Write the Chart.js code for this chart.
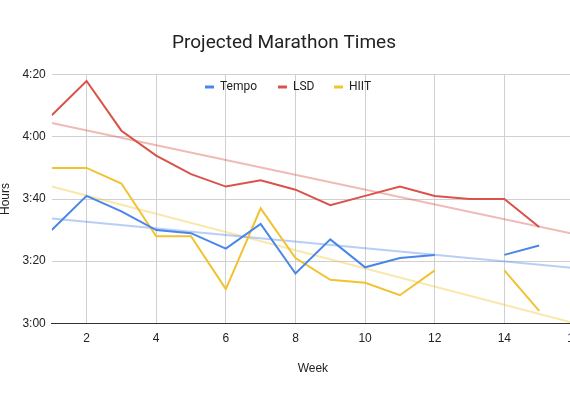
<!DOCTYPE html>
<html lang="en">
<head>
<meta charset="UTF-8">
<title>Projected Marathon Times</title>
<script src="https://cdn.jsdelivr.net/npm/chart.js"></script>
<style>
  html, body { margin: 0; background: #fff; overflow: hidden; }
  #wrap { position: absolute; left: -8px; top: 0; width: 610px; height: 410px; }
</style>
</head>
<body>
<div id="wrap"><canvas id="chart"></canvas></div>
<script>
// weeks and projected times in minutes (3:30 = 210)
const weeks = [1, 2, 3, 4, 5, 6, 7, 8, 9, 10, 11, 12, 13, 14, 15];
const tempo = [210, 221, 216, 210, 209, 204, 212, 196, 207, 198, 201, 202, null, 202, 205];
const lsd   = [247, 258, 242, 234, 228, 224, 226, 223, 218, 221, 224, 221, 220, 220, 211];
const hiit  = [230, 230, 225, 208, 208, 191, 217, 201, 194, 193, 189, 197, null, 197, 184];
const xTicks = [2, 4, 6, 8, 10, 12, 14, 16];

const colors = { Tempo: '#4a86e8', LSD: '#d9534a', HIIT: '#f1c232' };

function fmt(v) {
  const h = Math.floor(v / 60), m = Math.round(v % 60);
  return h + ':' + String(m).padStart(2, '0');
}

function trend(vals) {
  const pts = weeks.map((w, i) => [w, vals[i]]).filter(p => p[1] !== null);
  const n = pts.length;
  const sx = pts.reduce((a, p) => a + p[0], 0), sy = pts.reduce((a, p) => a + p[1], 0);
  const sxx = pts.reduce((a, p) => a + p[0] * p[0], 0), sxy = pts.reduce((a, p) => a + p[0] * p[1], 0);
  const b = (n * sxy - sx * sy) / (n * sxx - sx * sx);
  const a = (sy - b * sx) / n;
  return [1, 16].map(x => ({ x: x, y: a + b * x }));
}

function series(label, vals) {
  return {
    label: label,
    data: weeks.map((w, i) => ({ x: w, y: vals[i] })),
    borderColor: colors[label], borderWidth: 2, pointRadius: 0, tension: 0, spanGaps: false
  };
}
function trendSet(label, vals) {
  return {
    label: '', data: trend(vals), borderColor: colors[label] + '66',
    borderWidth: 2, pointRadius: 0
  };
}

const legendPlugin = {
  id: 'innerLegend',
  afterDraw(chart) {
    const ctx = chart.ctx;
    const items = ['Tempo', 'LSD', 'HIIT'];
    const xs = [205, 278, 334];
    ctx.save();
    ctx.font = '12px Roboto, Arial, sans-serif';
    ctx.textBaseline = 'middle';
    items.forEach((it, i) => {
      const x = xs[i] + 8, y = 87;
      ctx.strokeStyle = colors[it]; ctx.lineWidth = 3;
      ctx.beginPath(); ctx.moveTo(x, y); ctx.lineTo(x + 9, y); ctx.stroke();
      ctx.fillStyle = '#222'; ctx.fillText(it, x + 15, y);
    });
    ctx.restore();
  }
};

new Chart(document.getElementById('chart'), {
  type: 'line',
  data: {
    datasets: [
      series('Tempo', tempo), series('LSD', lsd), series('HIIT', hiit),
      trendSet('Tempo', tempo), trendSet('LSD', lsd), trendSet('HIIT', hiit)
    ]
  },
  options: {
    responsive: true, maintainAspectRatio: false, animation: false,
    layout: { padding: { left: 2, right: 28, top: 12, bottom: 30 } },
    plugins: {
      legend: { display: false },
      tooltip: { enabled: false },
      title: {
        display: true, text: 'Projected Marathon Times', color: '#222',
        font: { size: 19, family: 'Roboto, Arial, sans-serif', weight: 'normal' },
        padding: { top: 20, bottom: 20 }
      }
    },
    scales: {
      x: {
        type: 'linear', min: 1, max: 16,
        afterBuildTicks: s => { s.ticks = xTicks.map(v => ({ value: v })); },
        grid: { color: '#d0d0d0', drawTicks: false },
        border: { color: '#333' },
        ticks: { color: '#222', padding: 8, font: { size: 12 } },
        title: { display: true, text: 'Week', color: '#222', font: { size: 12 }, padding: { top: 8 } }
      },
      y: {
        min: 180, max: 260,
        ticks: { stepSize: 20, callback: v => fmt(v), color: '#222', padding: 6, font: { size: 12 } },
        grid: { color: '#d0d0d0', drawTicks: false },
        border: { display: false },
        title: { display: true, text: 'Hours', color: '#222', font: { size: 12 } }
      }
    }
  },
  plugins: [legendPlugin]
});
</script>
</body>
</html>
